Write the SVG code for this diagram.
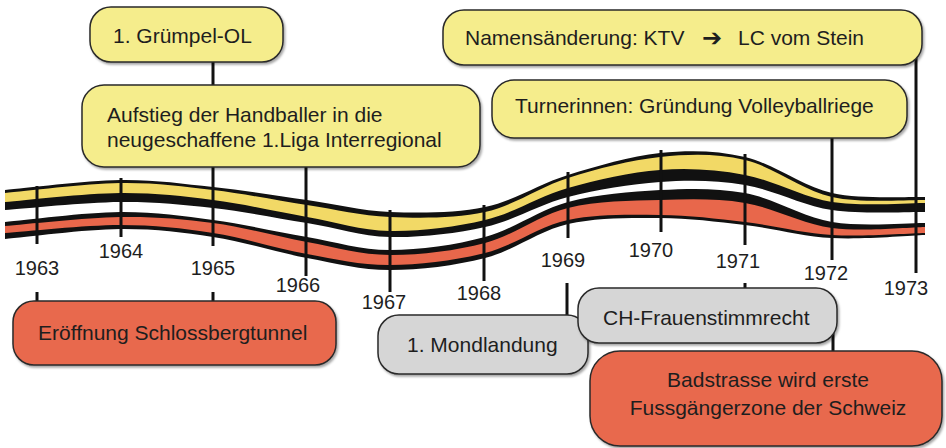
<svg xmlns="http://www.w3.org/2000/svg" width="946" height="448" viewBox="0 0 946 448">
<defs>
<filter id="sh" x="-10%" y="-10%" width="120%" height="130%"><feDropShadow dx="1.5" dy="2" stdDeviation="1.2" flood-color="#000" flood-opacity="0.35"/></filter>
</defs>
<style>
text{font-family:"Liberation Sans",Arial,sans-serif;fill:#1e1e1e}
.lbl{font-size:21px}
.yr{font-size:20px;text-anchor:middle}
.box{stroke:#2a2a2a;stroke-width:1.5;filter:url(#sh)}
.y{fill:#f5ed8c}
.r{fill:#e8694e}
.g{fill:#d6d6d6}
.tick{stroke:#111;stroke-width:3;fill:none}
.arrow{font-family:"DejaVu Sans",sans-serif;font-weight:bold}
</style>
<rect width="946" height="448" fill="#fff"/>
<g id="band">
<path fill="#111" d="M5,190 C24.2,188.3 85.3,180.5 120,180 C154.7,179.5 181.8,183.7 213,187 C244.2,190.3 277.5,195.8 307,200 C336.5,204.2 360.3,210.8 390,212 C419.7,213.2 455.3,213.2 485,207 C514.7,200.8 538.8,184 568,175 C597.2,166 630.5,156 660,153 C689.5,150 716.3,150.3 745,157 C773.7,163.7 802,186.3 832,193 C862,199.7 909.5,196.3 925,197 L925,235 C909.5,235.5 862,239.7 832,238 C802,236.3 773.7,228.3 745,225 C716.3,221.7 689.5,218.2 660,218 C630.5,217.8 597.2,217.3 568,224 C538.8,230.7 514.7,250.3 485,258 C455.3,265.7 419.7,270 390,270 C360.3,270 336.5,263.5 307,258 C277.5,252.5 244.2,241.8 213,237 C181.8,232.2 154.7,228.7 120,229 C85.3,229.3 24.2,237.3 5,239 Z"/>
<path fill="#f2d966" d="M5,193 C24.2,191.3 85.3,183.5 120,183 C154.7,182.5 181.8,186.3 213,190 C244.2,193.7 277.5,200.5 307,205 C336.5,209.5 360.3,215.8 390,217 C419.7,218.2 455.3,218.5 485,212 C514.7,205.5 538.8,187.2 568,178 C597.2,168.8 630.5,160 660,157 C689.5,154 716.3,153.3 745,160 C773.7,166.7 802,190.3 832,197 C862,203.7 909.5,199.5 925,200 L925,203 C909.5,202.8 862,206.7 832,202 C802,197.3 773.7,180.3 745,175 C716.3,169.7 689.5,167.8 660,170 C630.5,172.2 597.2,179.7 568,188 C538.8,196.3 514.7,212.8 485,220 C455.3,227.2 419.7,231.5 390,231 C360.3,230.5 336.5,222.2 307,217 C277.5,211.8 244.2,204 213,200 C181.8,196 154.7,192.7 120,193 C85.3,193.3 24.2,200.5 5,202 Z"/>
<path fill="#ffffff" d="M5,210 C24.2,208.7 85.3,202.3 120,202 C154.7,201.7 181.8,204.5 213,208 C244.2,211.5 277.5,218.2 307,223 C336.5,227.8 360.3,236.3 390,237 C419.7,237.7 455.3,233.7 485,227 C514.7,220.3 538.8,204.5 568,197 C597.2,189.5 630.5,184 660,182 C689.5,180 716.3,180.3 745,185 C773.7,189.7 802,205.5 832,210 C862,214.5 909.5,211.7 925,212 L925,223 C909.5,222.8 862,227 832,222 C802,217 773.7,198.3 745,193 C716.3,187.7 689.5,188.5 660,190 C630.5,191.5 597.2,194.2 568,202 C538.8,209.8 514.7,229 485,237 C455.3,245 419.7,250 390,250 C360.3,250 336.5,242 307,237 C277.5,232 244.2,224.2 213,220 C181.8,215.8 154.7,211.7 120,212 C85.3,212.3 24.2,220.3 5,222 Z"/>
<path fill="#e8674b" d="M5,226 C24.2,224.5 85.3,217.5 120,217 C154.7,216.5 181.8,218.8 213,223 C244.2,227.2 277.5,236.7 307,242 C336.5,247.3 360.3,254.8 390,255 C419.7,255.2 455.3,250.8 485,243 C514.7,235.2 538.8,215.2 568,208 C597.2,200.8 630.5,200.8 660,200 C689.5,199.2 716.3,198.3 745,203 C773.7,207.7 802,224 832,228 C862,232 909.5,227.2 925,227 L925,233 C909.5,233.3 862,236.8 832,235 C802,233.2 773.7,225.3 745,222 C716.3,218.7 689.5,215.3 660,215 C630.5,214.7 597.2,213.7 568,220 C538.8,226.3 514.7,245.5 485,253 C455.3,260.5 419.7,264.8 390,265 C360.3,265.2 336.5,259.3 307,254 C277.5,248.7 244.2,237.8 213,233 C181.8,228.2 154.7,225 120,225 C85.3,225 24.2,231.7 5,233 Z"/>
</g>
<g id="connectors">
<line class="tick" x1="37" y1="186" x2="37" y2="244"/>
<line class="tick" x1="121" y1="178" x2="121" y2="237"/>
<line class="tick" x1="213" y1="60" x2="213" y2="88"/>
<line class="tick" x1="213" y1="160" x2="213" y2="246"/>
<line class="tick" x1="306" y1="160" x2="306" y2="276"/>
<line class="tick" x1="390" y1="210" x2="390" y2="292"/>
<line class="tick" x1="484" y1="205" x2="484" y2="281"/>
<line class="tick" x1="568" y1="172" x2="568" y2="238"/>
<line class="tick" x1="661" y1="150" x2="661" y2="232"/>
<line class="tick" x1="745" y1="154" x2="745" y2="245"/>
<line class="tick" x1="832" y1="130" x2="832" y2="260"/>
<line class="tick" x1="916" y1="58" x2="916" y2="273"/>
<line class="tick" x1="37" y1="292" x2="37" y2="304"/>
<line class="tick" x1="213" y1="292" x2="213" y2="304"/>
<line class="tick" x1="567" y1="283" x2="567" y2="318"/>
<line class="tick" x1="745" y1="283" x2="745" y2="292"/>
<line class="tick" x1="833" y1="330" x2="833" y2="354"/>
</g>
<g id="years">
<text class="yr" x="37" y="275">1963</text>
<text class="yr" x="121" y="258">1964</text>
<text class="yr" x="213" y="275">1965</text>
<text class="yr" x="298" y="292">1966</text>
<text class="yr" x="384" y="309">1967</text>
<text class="yr" x="479" y="300">1968</text>
<text class="yr" x="563" y="267">1969</text>
<text class="yr" x="651" y="257">1970</text>
<text class="yr" x="738" y="268">1971</text>
<text class="yr" x="826" y="280">1972</text>
<text class="yr" x="906" y="295">1973</text>
</g>
<g id="n-gruempel">
<rect class="box y" x="90" y="7" width="193" height="55" rx="21"/>
<text class="lbl" x="113" y="43">1. Grümpel-OL</text>
</g>
<g id="n-aufstieg">
<rect class="box y" x="82" y="85" width="398" height="82" rx="22"/>
<text class="lbl" x="107" y="122">Aufstieg der Handballer in die</text>
<text class="lbl" x="107" y="147">neugeschaffene 1.Liga Interregional</text>
</g>
<g id="n-namen">
<rect class="box y" x="443" y="10" width="479" height="55" rx="21"/>
<text class="lbl" x="465" y="45">Namensänderung: KTV</text>
<text class="arrow" x="702" y="46" font-size="24">➔</text>
<text class="lbl" x="738" y="45">LC vom Stein</text>
</g>
<g id="n-turnerinnen">
<rect class="box y" x="492" y="80" width="415" height="58" rx="22"/>
<text class="lbl" x="515" y="113">Turnerinnen: Gründung Volleyballriege</text>
</g>
<g id="n-eroeffnung">
<rect class="box r" x="13" y="301" width="323" height="64" rx="21"/>
<text class="lbl" x="38" y="340">Eröffnung Schlossbergtunnel</text>
</g>
<g id="n-mond">
<rect class="box g" x="378" y="315" width="210" height="59" rx="21"/>
<text class="lbl" x="407" y="352">1. Mondlandung</text>
</g>
<g id="n-ch">
<rect class="box g" x="578" y="288" width="259" height="55" rx="21"/>
<text class="lbl" x="603" y="325">CH-Frauenstimmrecht</text>
</g>
<g id="n-badstrasse">
<rect class="box r" x="590" y="351" width="352" height="95" rx="30"/>
<text class="lbl" x="768" y="387" text-anchor="middle">Badstrasse wird erste</text>
<text class="lbl" x="768" y="415" text-anchor="middle">Fussgängerzone der Schweiz</text>
</g>
</svg>
